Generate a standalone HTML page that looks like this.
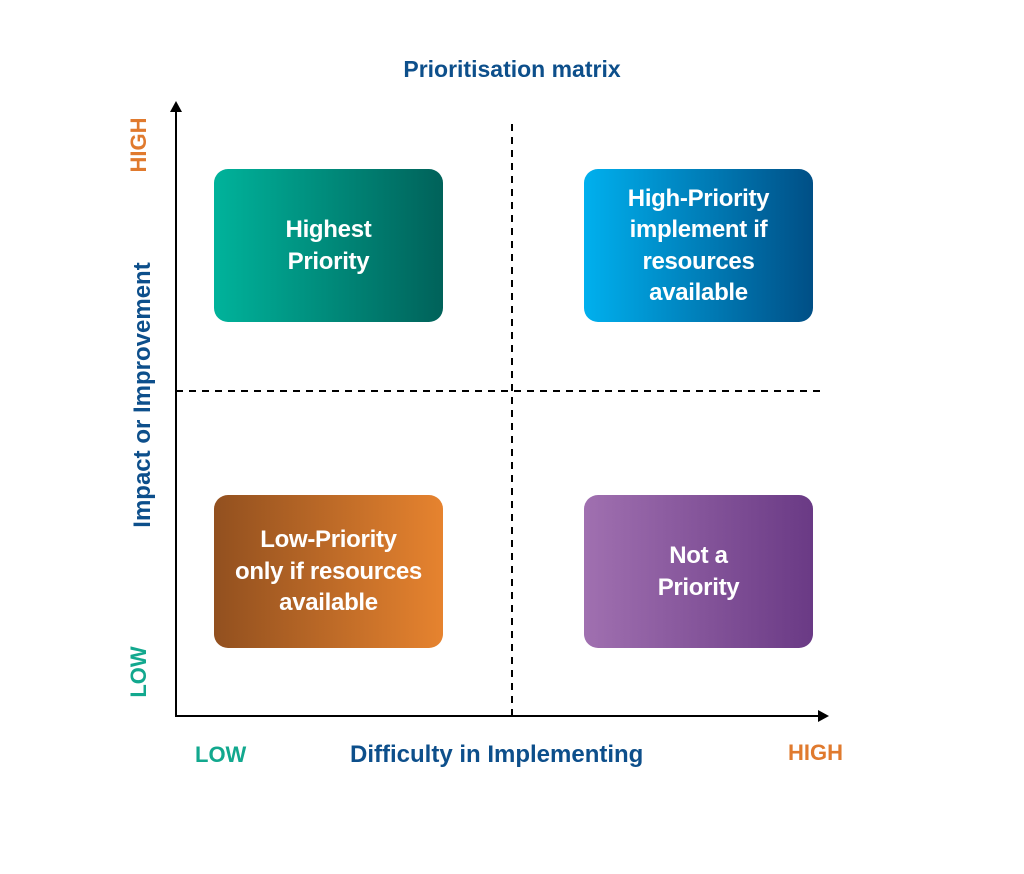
<!DOCTYPE html>
<html><head><style>
body{margin:0;background:#fff;width:1024px;height:874px;position:relative;overflow:hidden;font-family:"Liberation Sans",sans-serif;font-weight:bold}
.t{position:absolute;white-space:nowrap}
.box{position:absolute;width:229px;height:153px;border-radius:14px;color:#fff;font-size:24px;line-height:31.5px;display:flex;align-items:center;justify-content:center;text-align:center;letter-spacing:-0.3px}
.rot{position:absolute;white-space:nowrap;transform:translate(-50%,-50%) rotate(-90deg)}
</style></head><body>
<div class="t" style="left:0;width:1024px;text-align:center;top:56px;font-size:23px;color:#0d4f8b">Prioritisation matrix</div>
<svg width="1024" height="874" style="position:absolute;left:0;top:0">
<line x1="176" y1="110" x2="176" y2="716" stroke="#000" stroke-width="2"/>
<polygon points="170,112 182,112 176,101" fill="#000"/>
<line x1="175" y1="716" x2="820" y2="716" stroke="#000" stroke-width="2"/>
<polygon points="818,710 818,722 829,716" fill="#000"/>
<line x1="512" y1="124" x2="512" y2="716" stroke="#000" stroke-width="2" stroke-dasharray="7,6"/>
<line x1="176" y1="391" x2="826" y2="391" stroke="#000" stroke-width="2" stroke-dasharray="7,6"/>
</svg>
<div class="box" style="left:214px;top:169px;background:linear-gradient(90deg,#00b39b,#00625a)">Highest<br>Priority</div>
<div class="box" style="left:584px;top:169px;background:linear-gradient(90deg,#00b0ee,#004f86)">High-Priority<br>implement if<br>resources<br>available</div>
<div class="box" style="left:214px;top:495px;background:linear-gradient(90deg,#92501f,#e6832f)">Low-Priority<br>only if resources<br>available</div>
<div class="box" style="left:584px;top:495px;background:linear-gradient(90deg,#a070b0,#6a3a85)">Not a<br>Priority</div>
<div class="rot" style="left:139px;top:145px;font-size:22px;color:#e07a2e">HIGH</div>
<div class="rot" style="left:139px;top:672px;font-size:22px;color:#12a88e">LOW</div>
<div class="rot" style="left:143px;top:395px;font-size:24px;color:#0d4f8b">Impact or Improvement</div>
<div class="t" style="left:195px;top:742px;font-size:22px;color:#12a88e">LOW</div>
<div class="t" style="left:350px;top:741px;font-size:24px;color:#0d4f8b">Difficulty in Implementing</div>
<div class="t" style="left:788px;top:740px;font-size:22px;color:#e07a2e">HIGH</div>
</body></html>
